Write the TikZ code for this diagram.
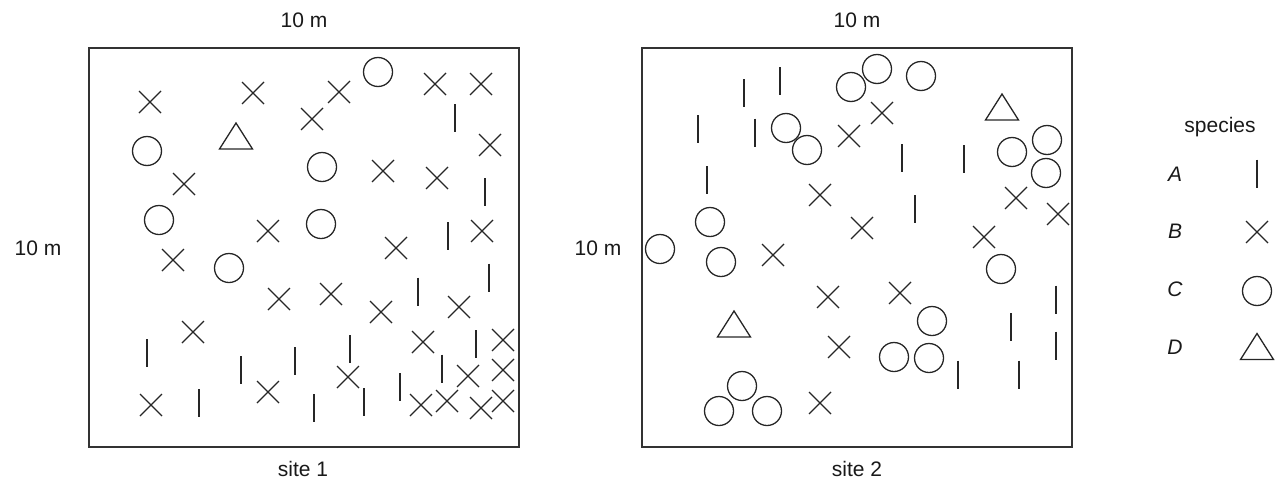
\documentclass[tikz,border=0pt]{standalone}
\usepackage{fontspec}
\setmainfont{Liberation Sans}
\begin{document}
\begin{tikzpicture}[x=1pt,y=-1pt,
  lbl/.style={font=\fontsize{21}{24}\selectfont, text=black!90, inner sep=0pt},
  key/.style={lbl, font=\fontsize{21}{24}\selectfont\itshape},
  frame/.style={draw=black!80, line width=1.3pt},
  sym/.style={draw=black!85, line width=1.3pt},
  spA/.pic={\draw[sym] (0,-14) -- (0,14);},
  spB/.pic={\draw[sym] (-11,-11) -- (11,11) (-11,11) -- (11,-11);},
  spC/.pic={\draw[sym] (0,0) circle[radius=14.5pt];},
  spD/.pic={\draw[sym] (-16.5,13) -- (0,-13) -- (16.5,13) -- cycle;}]
\useasboundingbox (0,0) rectangle (1281,498);

% ---------- site 1 ----------
\draw[frame] (89,48) rectangle (519,447);
\node[lbl] (s1top) at (304,20) {10 m};
\node[lbl] (s1left) at (38,248) {10 m};
\node[lbl] (s1name) at (303,469) {site 1};

% species A
\foreach \p in {(455,118),(485,192),(448,236),(489,277.5),(418,291.5),
  (147,353),(241,370),(295,361),(350,349),(476,344),(442,368.5),
  (364,402),(400,387),(314,408),(199,403)}
  \pic at \p {spA};
% species B
\foreach \p in {(150,102),(253,93),(339,92),(312,119),(435,84),(481,84),
  (490,145),(184,184),(383,171),(437,178),(268,231),(482,231),(396,248),
  (173,260),(279,299),(331,294),(381,312),(459,307),(193,332),(423,342),
  (503,340),(348,377),(468,376),(503,370),(268,392),(151,405),(421,405),
  (447,401),(481,408),(503,401)}
  \pic at \p {spB};
% species C
\foreach \p in {(378,72),(147,151),(322,167),(159,220),(321,224),(229,268)}
  \pic at \p {spC};
% species D
\pic at (236,136) {spD};

% ---------- site 2 ----------
\draw[frame] (642,48) rectangle (1072,447);
\node[lbl] (s2top) at (857,20) {10 m};
\node[lbl] (s2left) at (598,248) {10 m};
\node[lbl] (s2name) at (857,469) {site 2};

% species A
\foreach \p in {(780,81),(744,93),(698,129),(755,132.5),(707,180),
  (902,158),(964,159),(915,209),(1056,299.5),(1011,327),(1056,345.5),
  (958,374.5),(1019,374.5)}
  \pic at \p {spA};
% species B
\foreach \p in {(820,195),(882,113),(849,136),(1016,198),(1058,214),
  (862,228),(984,237),(773,255),(828,297),(900,293),(839,347),(820,403)}
  \pic at \p {spB};
% species C
\foreach \p in {(786,128),(807,150),(710,222),(660,249),(721,262),
  (877,69),(851,87),(921,76),(1047,140),(1012,152),(1046,173),
  (1001,269),(932,321),(894,357),(929,358),(742,386),(719,411),(767,411)}
  \pic at \p {spC};
% species D
\pic at (1002,107) {spD};
\pic at (734,324) {spD};

% ---------- key ----------
\node[lbl] (keyhead) at (1220,127) {species};
\node[key] (kA) at (1175,174) {A};
\node[key] (kB) at (1175,231) {B};
\node[key] (kC) at (1175,289) {C};
\node[key] (kD) at (1175,347) {D};
\pic at (1257,173.5) {spA};
\pic at (1257,232) {spB};
\pic at (1257,291) {spC};
\pic at (1257,346.5) {spD};
\end{tikzpicture}
\end{document}
